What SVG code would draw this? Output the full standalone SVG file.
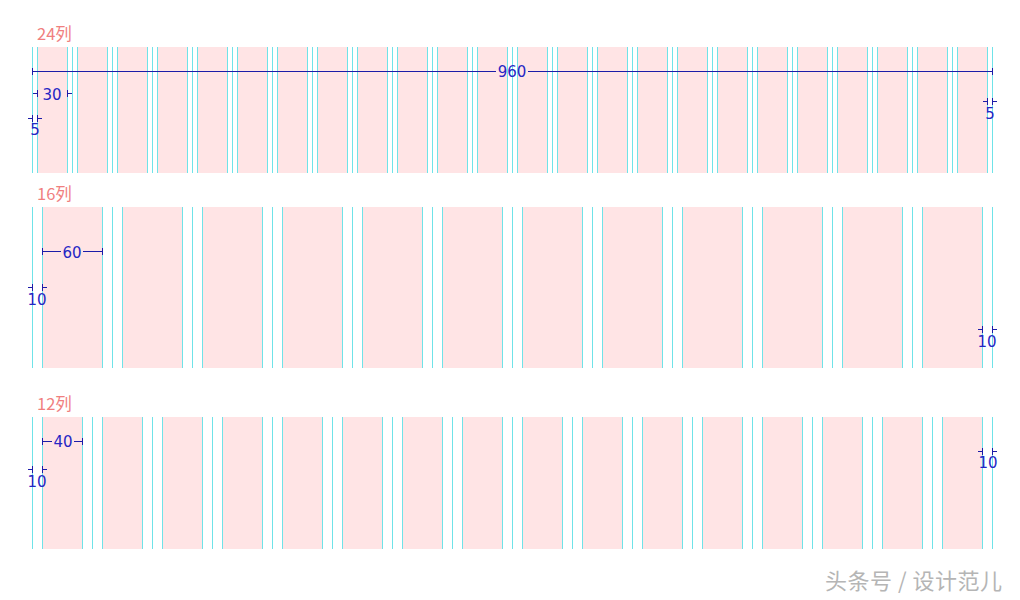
<svg xmlns="http://www.w3.org/2000/svg" width="1020" height="600" viewBox="0 0 1020 600">
<style>
.title{font-family:"Noto Sans CJK SC","Noto Sans",sans-serif;font-size:16.5px;fill:#f07f7f}
.num{font-family:"DejaVu Sans","Liberation Sans",sans-serif;font-size:15px;fill:#2626c4;text-anchor:middle}
.dim{stroke:#1c1ca8;stroke-width:1;fill:none}
.grid{stroke:#6fe3e8;stroke-width:1}
.wm{font-family:"Noto Sans CJK SC",sans-serif;font-size:22px;letter-spacing:0.5px;fill:#b5b5b5}
</style>
<defs>
<pattern id="p24" patternUnits="userSpaceOnUse" x="32" y="47" width="40" height="126">
<rect x="5" y="0" width="30" height="126" fill="#ffe4e5"/>
<line class="grid" x1="0.5" y1="0" x2="0.5" y2="126"/>
<line class="grid" x1="5.5" y1="0" x2="5.5" y2="126"/>
<line class="grid" x1="35.5" y1="0" x2="35.5" y2="126"/>
</pattern>
<pattern id="p16" patternUnits="userSpaceOnUse" x="32" y="207" width="80" height="161">
<rect x="10" y="0" width="60" height="161" fill="#ffe4e5"/>
<line class="grid" x1="0.5" y1="0" x2="0.5" y2="161"/>
<line class="grid" x1="10.5" y1="0" x2="10.5" y2="161"/>
<line class="grid" x1="70.5" y1="0" x2="70.5" y2="161"/>
</pattern>
<pattern id="p12" patternUnits="userSpaceOnUse" x="32" y="417" width="60" height="132">
<rect x="10" y="0" width="40" height="132" fill="#ffe4e5"/>
<line class="grid" x1="0.5" y1="0" x2="0.5" y2="132"/>
<line class="grid" x1="10.5" y1="0" x2="10.5" y2="132"/>
<line class="grid" x1="50.5" y1="0" x2="50.5" y2="132"/>
</pattern>
</defs>
<rect width="1020" height="600" fill="#ffffff"/>

<g id="grid24">
<text class="title" x="37" y="40">24列</text>
<rect x="32" y="47" width="960" height="126" fill="url(#p24)"/>
<line class="grid" x1="992.5" y1="47" x2="992.5" y2="173"/>
<g id="dim24">
<path class="dim" d="M32.5 71.5H496M528 71.5H992.5M32.5 68V75M992.5 68V75"/>
<text class="num" x="512" y="76.5">960</text>
<path class="dim" d="M33 93.5H37.5M37.5 90V97M67.5 90V97M67.5 93.5H72"/>
<text class="num" x="52" y="100">30</text>
<path class="dim" d="M28 118.5H32.5M32.5 115V122M37.5 115V122M37.5 118.5H42"/>
<text class="num" x="35" y="135">5</text>
<path class="dim" d="M983 101.5H987.5M987.5 98V105M992.5 98V105M992.5 101.5H997"/>
<text class="num" x="990" y="118.5">5</text>
</g>
</g>

<g id="grid16">
<text class="title" x="37" y="200">16列</text>
<rect x="32" y="207" width="960" height="161" fill="url(#p16)"/>
<line class="grid" x1="992.5" y1="207" x2="992.5" y2="368"/>
<g id="dim16">
<path class="dim" d="M42.5 251.5H61M83 251.5H102.5M42.5 248V255M102.5 248V255"/>
<text class="num" x="72" y="258">60</text>
<path class="dim" d="M28 287.5H32.5M32.5 284V291M42.5 284V291M42.5 287.5H47"/>
<text class="num" x="37" y="305">10</text>
<path class="dim" d="M978 329.5H982.5M982.5 326V333M992.5 326V333M992.5 329.5H997"/>
<text class="num" x="987" y="347">10</text>
</g>
</g>

<g id="grid12">
<text class="title" x="37" y="410">12列</text>
<rect x="32" y="417" width="960" height="132" fill="url(#p12)"/>
<line class="grid" x1="992.5" y1="417" x2="992.5" y2="549"/>
<g id="dim12">
<path class="dim" d="M42.5 441.5H52M74 441.5H82.5M42.5 438V445M82.5 438V445"/>
<text class="num" x="63" y="447">40</text>
<path class="dim" d="M28 469.5H32.5M32.5 466V473M42.5 466V473M42.5 469.5H47"/>
<text class="num" x="37" y="487">10</text>
<path class="dim" d="M978 451.5H982.5M982.5 448V455M992.5 448V455M992.5 451.5H997"/>
<text class="num" x="988" y="468">10</text>
</g>
</g>

<text class="wm" x="825" y="589">头条号 / 设计范儿</text>
</svg>
